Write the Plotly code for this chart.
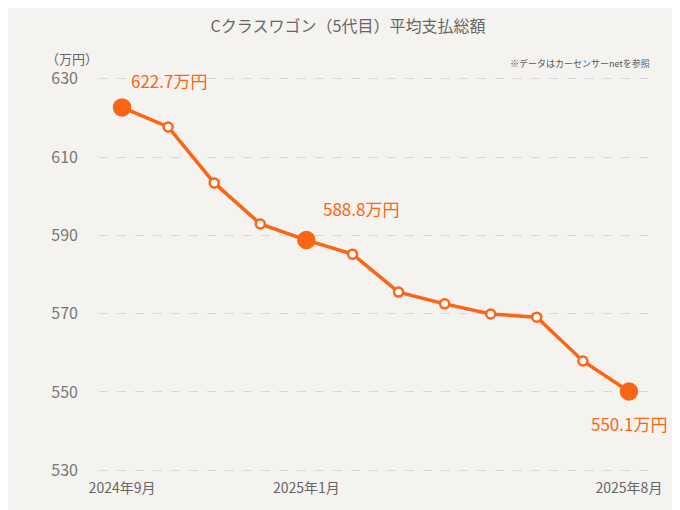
import plotly.graph_objects as go

months = ["2024-09","2024-10","2024-11","2024-12","2025-01","2025-02","2025-03","2025-04","2025-05","2025-06","2025-07","2025-08"]
values = [622.7,617.7,603.4,592.9,588.8,585.2,575.5,572.5,569.9,569.1,557.9,550.1]
tick_vals = ["2024-09","2025-01","2025-08"]
tick_text = ["2024年9月","2025年1月","2025年8月"]
big_idx = [0,4,11]
labels = {0:"622.7万円",4:"588.8万円",11:"550.1万円"}

C = "#fb6516"
x = list(range(len(months)))
fig = go.Figure()
fig.add_trace(go.Scatter(x=x, y=values, mode="lines+markers",
    line=dict(color=C, width=3.5),
    marker=dict(size=[16 if i in big_idx else 9 for i in x], opacity=1,
                color=[C if i in big_idx else "white" for i in x],
                line=dict(color=C, width=2.5)),
    hoverinfo="skip", showlegend=False))
pos = {0:(47,-27),4:(55,-32),11:(0,32)}
for i, t in labels.items():
    fig.add_annotation(x=i, y=values[i], text=t, showarrow=False, xshift=pos[i][0], yshift=-pos[i][1],
                       font=dict(size=17, color=C, family="Noto Sans CJK JP"))
fig.add_annotation(xref="paper", yref="paper", x=1, y=1.04, text="※データはカーセンサーnetを参照", showarrow=False,
                   xanchor="right", font=dict(size=9, color="#555", family="Noto Sans CJK JP"))
fig.add_annotation(xref="paper", yref="paper", x=-0.1, y=1.06, text="（万円）", showarrow=False,
                   xanchor="left", font=dict(size=13, color="#666", family="Noto Sans CJK JP"))
fig.update_layout(width=680, height=510, paper_bgcolor="#f5f3ef", plot_bgcolor="#f5f3ef",
    margin=dict(l=91, r=36, t=63, b=40),
    title=dict(text="Cクラスワゴン（5代目）平均支払総額", x=0.5, y=0.975, xanchor="center",
               font=dict(size=16, color="#666", family="Noto Sans CJK JP")),
    font=dict(family="Noto Sans CJK JP", color="#777"))
fig.update_xaxes(tickvals=[months.index(v) for v in tick_vals], ticktext=tick_text, range=[-0.5, 11.5],
                 showgrid=False, zeroline=False, tickfont=dict(size=14, color="#666"))
fig.update_yaxes(range=[528, 632], tickvals=[530,550,570,590,610,630], showgrid=True, gridcolor="#d8d8d8",
                 griddash="dash", zeroline=False, ticklabelstandoff=20, tickfont=dict(size=16, color="#777"))
fig.write_html("out.html")
